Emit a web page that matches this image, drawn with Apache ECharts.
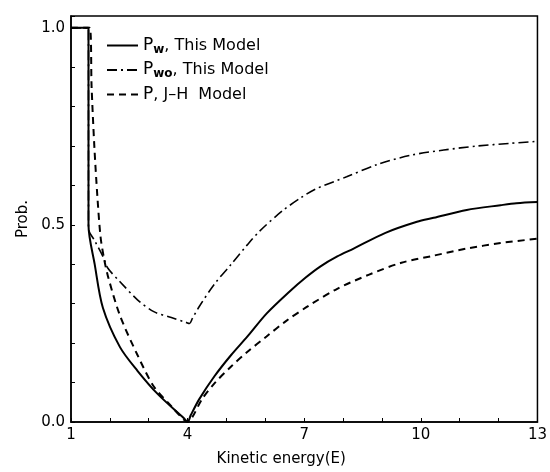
<!DOCTYPE html>
<html>
<head>
<meta charset="utf-8">
<script src="https://cdn.jsdelivr.net/npm/echarts@6/dist/echarts.min.js"></script>
<style>
  html, body { margin: 0; padding: 0; background: #fff; }
  #chart { width: 550px; height: 472px; }
</style>
</head>
<body>
<div id="chart"></div>
<script>
// curves: [kinetic energy, probability]
const pwData = [[1, 1], [1.45, 1], [1.45, 0.5], [1.61, 0.4], [1.82, 0.29], [2.26, 0.19], [2.71, 0.13],
  [3.24, 0.07], [3.9, 0.01], [4, 0], [4.08, 0.017], [4.3, 0.058], [4.69, 0.116], [5.12, 0.17],
  [5.54, 0.217], [6.03, 0.275], [6.61, 0.33], [7.03, 0.366], [7.42, 0.395], [7.85, 0.42],
  [8.27, 0.44], [9.09, 0.48], [9.9, 0.508], [10.33, 0.518], [11.18, 0.538], [12.05, 0.55],
  [12.46, 0.555], [13, 0.558]]
const pwoData = [[1, 1], [1.45, 1], [1.45, 0.49], [1.61, 0.46], [1.82, 0.42], [1.95, 0.39], [2.26, 0.356],
  [2.71, 0.31], [3.13, 0.28], [3.58, 0.265], [3.95, 0.253], [4.05, 0.25], [4.12, 0.262], [4.3, 0.293],
  [4.69, 0.35], [5.12, 0.4], [5.54, 0.45], [5.86, 0.485], [6.43, 0.535], [6.9, 0.568], [7.27, 0.59],
  [8.09, 0.622], [8.9, 0.654], [9.75, 0.677], [10.59, 0.69], [11.44, 0.7], [12.3, 0.707], [13, 0.712]]
const pData = [[1, 1], [1.48, 1], [1.53, 0.85], [1.6, 0.7], [1.68, 0.57], [1.76, 0.47], [1.84, 0.42],
  [1.95, 0.37], [2.26, 0.27], [2.71, 0.17], [3.13, 0.09], [3.58, 0.04], [3.9, 0.006], [4, 0],
  [4.12, 0.012], [4.37, 0.058], [4.69, 0.098], [5.12, 0.141], [5.54, 0.178], [6.03, 0.217],
  [6.53, 0.256], [7.1, 0.294], [7.85, 0.338], [8.67, 0.374], [9.5, 0.404], [10.33, 0.422],
  [11.18, 0.44], [12.05, 0.454], [13, 0.465]]
const xLabels = [1, 4, 7, 10, 13]
const yLabels = [0, 0.5, 1]
const seriesNames = ['Pw', 'Pwo', 'P']
const subs = {Pw: 'w', Pwo: 'wo', P: ''}
const tails = {Pw: ', This Model', Pwo: ', This Model', P: ', J\u2013H  Model'}

const font = 'DejaVu Sans'
const myChart = echarts.init(document.getElementById('chart'))
myChart.setOption({
  animation: false,
  grid: {
    left: 71, right: 5, top: 16, bottom: 47,
    show: true, borderColor: '#000', borderWidth: 1.5
  },
  legend: {
    data: seriesNames,
    orient: 'vertical',
    left: 101, top: 32,
    itemWidth: 31, itemHeight: 14, itemGap: 6,
    itemStyle: {opacity: 0},
    formatter: name => '{p|P}' + (subs[name] ? '{s|' + subs[name] + '}' : '') + '{t|' + tails[name] + '}',
    textStyle: {
      fontFamily: font, color: '#000',
      rich: {
        p: {fontSize: 17, fontFamily: font, color: '#000'},
        s: {fontSize: 12, fontFamily: font, color: '#000', fontWeight: 'bold', padding: [8, 0, 0, 0]},
        t: {fontSize: 16, fontFamily: font, color: '#000'}
      }
    }
  },
  xAxis: {
    type: 'value', min: 1, max: 13, interval: 1,
    name: 'Kinetic energy(E)', nameLocation: 'middle', nameGap: 30,
    nameTextStyle: {fontFamily: font, fontSize: 15, color: '#000', padding: [0, 46, 0, 0]},
    axisLine: {lineStyle: {color: '#000', width: 1.5}},
    axisTick: {inside: true, length: 4, lineStyle: {color: '#000'}},
    axisLabel: {
      fontFamily: font, fontSize: 15, color: '#000', margin: 6,
      formatter: v => xLabels.includes(v) ? String(v) : ''
    },
    splitLine: {show: false}
  },
  yAxis: {
    type: 'value', min: 0, max: 1.03, interval: 0.1,
    name: 'Prob.', nameLocation: 'middle', nameGap: 36,
    nameTextStyle: {fontFamily: font, fontSize: 15, color: '#000'},
    axisLine: {lineStyle: {color: '#000', width: 1.5}},
    axisTick: {inside: true, length: 4, lineStyle: {color: '#000'}},
    axisLabel: {
      fontFamily: font, fontSize: 15, color: '#000', margin: 6,
      formatter: v => yLabels.some(t => Math.abs(t - v) < 1e-6) ? v.toFixed(1) : ''
    },
    splitLine: {show: false}
  },
  series: [
    {
      name: 'Pw', type: 'line', data: pwData, symbol: 'none', z: 4, smooth: 0.3,
      itemStyle: {color: '#000'},
      lineStyle: {color: '#000', width: 2, type: 'solid'}
    },
    {
      name: 'Pwo', type: 'line', data: pwoData, symbol: 'none', z: 3, smooth: 0.3,
      itemStyle: {color: '#000'},
      lineStyle: {color: '#000', width: 1.6, type: [10, 4, 2, 4]}
    },
    {
      name: 'P', type: 'line', data: pData, symbol: 'none', z: 2, smooth: 0.3,
      itemStyle: {color: '#000'},
      lineStyle: {color: '#000', width: 2, type: [7, 5]}
    }
  ]
})
</script>
</body>
</html>
